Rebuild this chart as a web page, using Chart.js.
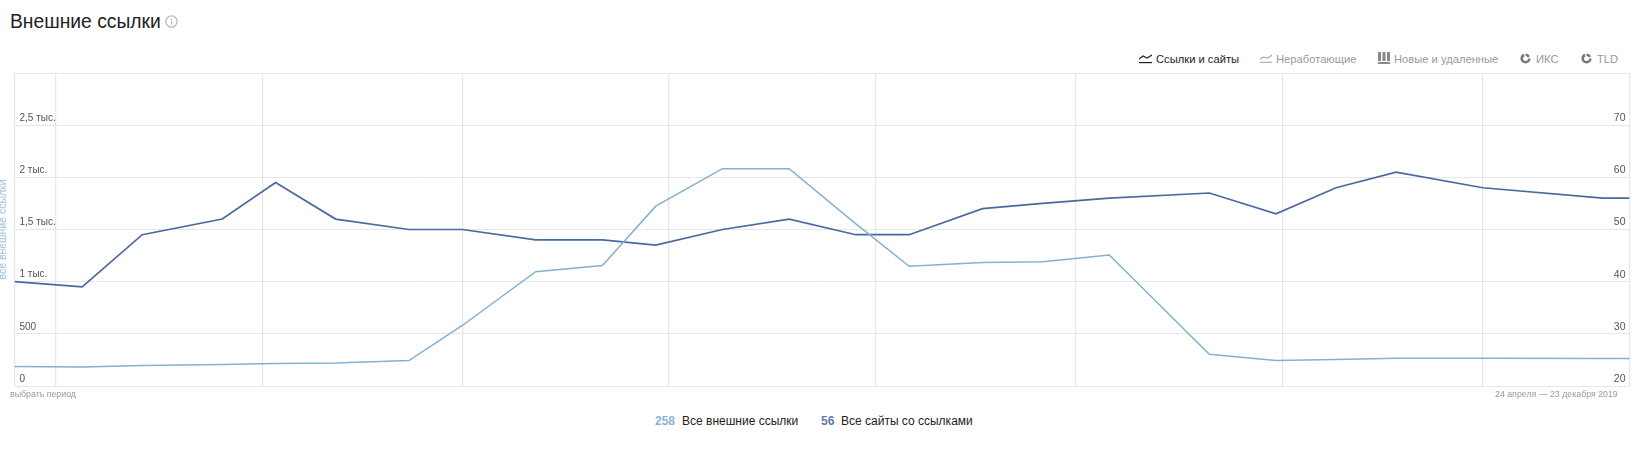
<!DOCTYPE html>
<html lang="ru">
<head>
<meta charset="utf-8">
<title>Внешние ссылки</title>
<script src="https://cdn.jsdelivr.net/npm/chart.js@4"></script>
<style>
    html, body { margin: 0; padding: 0; background: #fff; }
    body { width: 1639px; height: 451px; position: relative; overflow: hidden; font-family: "Liberation Sans", Arial, sans-serif; }
    .abs { position: absolute; white-space: nowrap; line-height: 1; }
    h1.abs { margin: 0; left: 10px; top: 12px; font-size: 19.3px; font-weight: normal; color: #222; }
    .tab { font-size: 11.2px; color: #999; top: 54px; }
    .tab.active { color: #222; }
    .small { font-size: 8.8px; color: #999; top: 390px; }
    .legend { font-size: 12px; color: #222; top: 415px; }
    .num { font-weight: bold; }
    svg.abs { display: block; }
    #chartBox { position: absolute; left: 0; top: 60px; width: 1639px; height: 337px; }
</style>
</head>
<body>
<h1 class="abs">Внешние ссылки</h1>
<svg class="abs" style="left:165px;top:15px" width="13" height="13" viewBox="0 0 12 12">
    <circle cx="6" cy="6" r="5.2" fill="none" stroke="#bbb" stroke-width="1.2"/>
    <rect x="5.4" y="5" width="1.2" height="4" fill="#bbb"/><rect x="5.4" y="3" width="1.2" height="1.2" fill="#bbb"/>
</svg>

<svg class="abs" style="left:1139px;top:54px" width="13" height="10" viewBox="0 0 13 10">
    <polyline points="0,5 4,2 8,4 13,1" fill="none" stroke="#222" stroke-width="1.2"/><rect y="8" width="13" height="1.2" fill="#222"/>
</svg>
<span class="abs tab active" style="left:1156px">Ссылки и сайты</span>
<svg class="abs" style="left:1260px;top:54px" width="12" height="10" viewBox="0 0 13 10">
    <polyline points="0,5 4,3 8,4 13,1" fill="none" stroke="#aaa" stroke-width="1.2"/><rect y="8" width="13" height="1.2" fill="#aaa"/>
</svg>
<span class="abs tab" style="left:1276px">Неработающие</span>
<svg class="abs" style="left:1378px;top:52px" width="12" height="12" viewBox="0 0 12 12">
    <rect x="0" y="0" width="3" height="9" fill="#888"/><rect x="4.5" y="0" width="3" height="9" fill="#888"/><rect x="9" y="0" width="3" height="9" fill="#888"/><rect y="10" width="12" height="2" fill="#888"/>
</svg>
<span class="abs tab" style="left:1394px">Новые и удаленные</span>
<svg class="abs" style="left:1520px;top:53px" width="11" height="11" viewBox="0 0 11 11">
    <circle cx="5.5" cy="5.5" r="3.8" fill="none" stroke="#777" stroke-width="2.6" stroke-dasharray="16 1.5 4 2.4"/>
</svg>
<span class="abs tab" style="left:1536px">ИКС</span>
<svg class="abs" style="left:1581px;top:53px" width="11" height="11" viewBox="0 0 11 11">
    <circle cx="5.5" cy="5.5" r="3.8" fill="none" stroke="#777" stroke-width="2.6" stroke-dasharray="16 1.5 4 2.4"/>
</svg>
<span class="abs tab" style="left:1597px">TLD</span>

<div id="chartBox"><canvas id="linksChart"></canvas></div>

<span class="abs small" style="left:10px">выбрать период</span>
<span class="abs small" style="left:1495px">24 апреля — 23 декабря 2019</span>

<span class="abs legend num" style="left:655px;color:#8ab4d4">258</span>
<span class="abs legend" style="left:682px">Все внешние ссылки</span>
<span class="abs legend num" style="left:821px;color:#5f7bab">56</span>
<span class="abs legend" style="left:841px">Все сайты со ссылками</span>

<script>
// days counted from 1 May 2019
var days = [-6.15, 4, 13, 25, 33, 42, 53, 61, 72, 82, 90, 100, 110, 120, 128, 139, 148, 158, 173, 183, 192, 201, 214, 232, 236];
var allLinks = [186, 183, 196, 205, 215, 221, 244, 580, 1096, 1154, 1724, 2083, 2083, 1554, 1147, 1183, 1192, 1256, 304, 244, 253, 266, 266, 263, 263];
var allSites = [40, 39, 49, 52, 59, 52, 50, 50, 48, 48, 47, 50, 52, 49, 49, 54, 55, 56, 57, 53, 58, 61, 58, 56, 56];

// starts of the months, they give the vertical grid lines
var monthStarts = [0, 31, 61, 92, 123, 153, 184, 214];
var leftTicks = ['0', '500', '1 тыс.', '1,5 тыс.', '2 тыс.', '2,5 тыс.', ''];
var rightTicks = ['20', '30', '40', '50', '60', '70', ''];

function toPoints(values) {
    return values.map(function(v, i) {
        return { x: days[i], y: v };
    });
}

new Chart(document.getElementById('linksChart').getContext('2d'), {
    type: 'line',
    data: {
        datasets: [{
            label: 'Все внешние ссылки',
            data: toPoints(allLinks),
            yAxisID: 'yLinks',
            borderColor: '#82b1d2',
            borderWidth: 1.5,
            pointRadius: 0,
            tension: 0
        }, {
            label: 'Все сайты со ссылками',
            data: toPoints(allSites),
            yAxisID: 'ySites',
            borderColor: '#4a6a9f',
            borderWidth: 1.7,
            pointRadius: 0,
            tension: 0
        }]
    },
    options: {
        responsive: true,
        maintainAspectRatio: false,
        animation: false,
        layout: { padding: { top: 13, bottom: 4, left: 0, right: 0 } },
        plugins: { legend: { display: false }, tooltip: { enabled: false } },
        scales: {
            x: {
                type: 'linear',
                min: -6.15,
                max: 236,
                afterBuildTicks: function(scale) {
                    scale.ticks = [-6.15].concat(monthStarts, [236]).map(function(v) {
                        return { value: v };
                    });
                },
                ticks: { display: false },
                border: { display: false },
                grid: { color: '#e7e8ea', lineWidth: 1.3, drawTicks: false }
            },
            yLinks: {
                position: 'left',
                min: 0,
                max: 3000,
                afterFit: function(scale) { scale.width = 14.5; },
                title: {
                    display: true,
                    text: 'все внешние ссылки',
                    color: '#9cc3dc',
                    font: { size: 10.5, family: '"Liberation Sans", Arial, sans-serif' },
                    padding: { top: -3, bottom: 0 }
                },
                ticks: {
                    stepSize: 500,
                    mirror: true,
                    padding: 5,
                    labelOffset: -7,
                    color: '#555',
                    font: { size: 10, family: '"Liberation Sans", Arial, sans-serif' },
                    callback: function(value) { return leftTicks[value / 500]; }
                },
                border: { display: false },
                grid: { color: '#e7e7e7', lineWidth: 1, drawTicks: false }
            },
            ySites: {
                position: 'right',
                min: 20,
                max: 80,
                afterFit: function(scale) { scale.width = 9.5; },
                ticks: {
                    stepSize: 10,
                    mirror: true,
                    padding: -4,
                    labelOffset: -7,
                    color: '#555',
                    font: { size: 10.5, family: '"Liberation Sans", Arial, sans-serif' },
                    callback: function(value) { return rightTicks[(value - 20) / 10]; }
                },
                border: { display: false },
                grid: { display: false, drawTicks: false }
            }
        }
    }
});
</script>
</body>
</html>
